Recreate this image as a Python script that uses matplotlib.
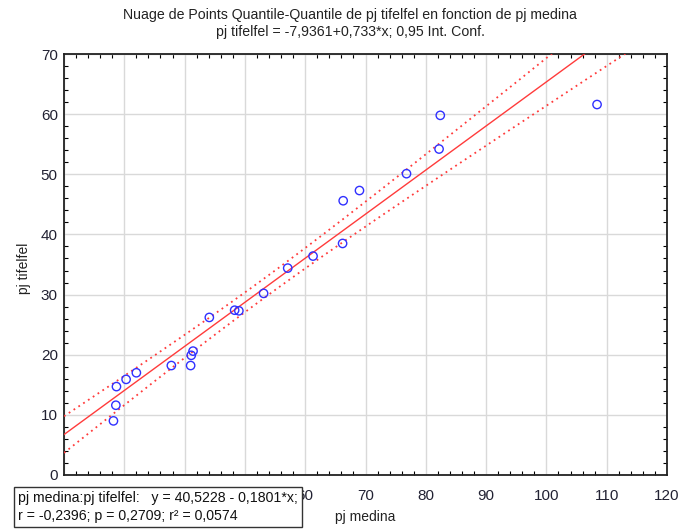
import matplotlib
matplotlib.use("Agg")
import matplotlib.pyplot as plt
import numpy as np
from matplotlib.ticker import MultipleLocator

plt.rcParams["font.family"] = ["Liberation Sans", "DejaVu Sans"]

# sorted quantiles
pj_medina = [28.2, 28.6, 28.7, 30.3, 32.0, 37.8, 41.0, 41.1, 41.4, 44.1, 48.3,
             49.0, 53.1, 57.1, 61.3, 66.2, 66.3, 69.0, 76.8, 82.2, 82.4, 108.4]
pj_tifelfel = [9.0, 11.6, 14.7, 15.9, 17.0, 18.2, 18.2, 19.9, 20.6, 26.2, 27.4,
               27.3, 30.2, 34.4, 36.4, 38.5, 45.6, 47.3, 50.1, 54.2, 59.8, 61.6]
intercept = -7.9361
slope = 0.733
t_crit = 2.086  # t(0.975, 20)

x = np.array(pj_medina)
y = np.array(pj_tifelfel)
n = len(x)
resid = y - (intercept + slope * x)
s = np.sqrt((resid ** 2).sum() / (n - 2))
sxx = ((x - x.mean()) ** 2).sum()

xs = np.linspace(20, 120, 300)
fit = intercept + slope * xs
half = t_crit * s * np.sqrt(1 / n + (xs - x.mean()) ** 2 / sxx)

fig = plt.figure(figsize=(6.83, 5.30), dpi=100)
ax = fig.add_axes([64 / 683, 55 / 530, 603 / 683, 421 / 530])

ax.plot(xs, fit, color="#ff3b3b", linewidth=1.0, zorder=3)
ax.plot(xs, fit + half, color="#ff3b3b", linewidth=1.3, linestyle=(0, (1, 2.2)), zorder=3)
ax.plot(xs, fit - half, color="#ff3b3b", linewidth=1.3, linestyle=(0, (1, 2.2)), zorder=3)
ax.scatter(x, y, s=36, facecolors="none", edgecolors="#3030ff", linewidths=1.0, zorder=4)

ax.set_xlim(20, 120)
ax.set_ylim(0, 70)
ax.xaxis.set_major_locator(MultipleLocator(10))
ax.xaxis.set_minor_locator(MultipleLocator(2))
ax.yaxis.set_major_locator(MultipleLocator(10))
ax.yaxis.set_minor_locator(MultipleLocator(2))
ax.tick_params(which="both", direction="in", top=True, right=True, labelsize=11,
               labelcolor="#222233")
ax.tick_params(which="major", length=0)
ax.tick_params(axis="x", which="major", pad=10)
ax.tick_params(axis="y", which="major", pad=4.5)
ax.tick_params(which="minor", length=3, width=0.8)
ax.grid(True, which="major", color="#d9d9d9", linewidth=1.0)
for sp in ax.spines.values():
    sp.set_linewidth(1.3)
    sp.set_color("#222222")

ax.set_xlabel("pj medina", fontsize=10, color="#222222", labelpad=5)
ax.set_ylabel("pj tifelfel", fontsize=10, color="#222222")
ax.yaxis.set_label_coords(-0.055, 0.49)

fig.text(350 / 683, 1 - 15 / 530, "Nuage de Points Quantile-Quantile de pj tifelfel en fonction de pj medina",
         ha="center", va="center", fontsize=10.2, color="#222222")
fig.text(350 / 683, 1 - 32 / 530, "pj tifelfel = -7,9361+0,733*x; 0,95 Int. Conf.",
         ha="center", va="center", fontsize=10.2, color="#222222")

fig.text(18 / 683, 1 - 507 / 530,
         "pj medina:pj tifelfel:   y = 40,5228 - 0,1801*x;\nr = -0,2396; p = 0,2709; r\u00b2 = 0,0574",
         ha="left", va="center", fontsize=10.2, color="#111111", linespacing=1.3,
         bbox=dict(boxstyle="square,pad=0.3", facecolor="white", edgecolor="#333333", linewidth=1.0))

fig.savefig("out.png", dpi=100)
